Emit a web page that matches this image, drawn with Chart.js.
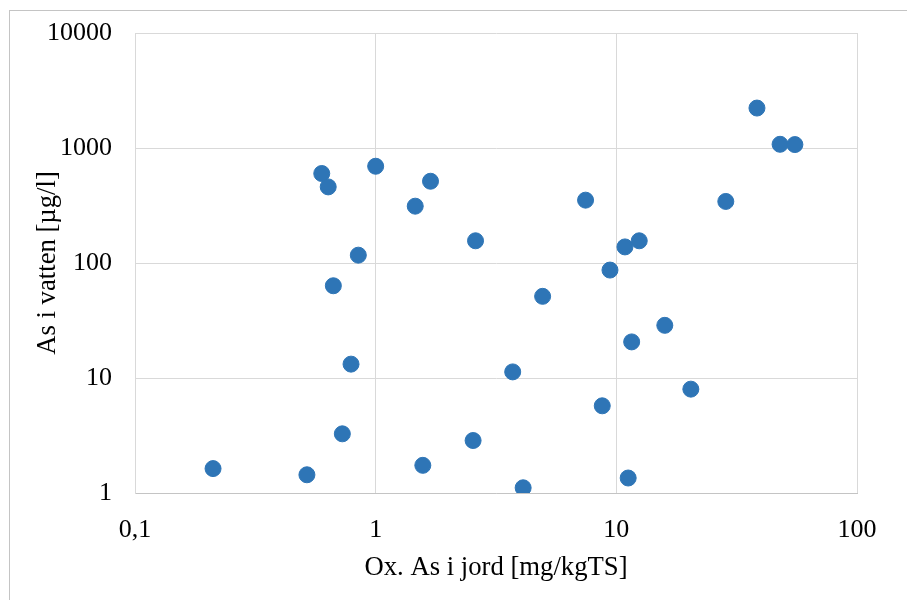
<!DOCTYPE html>
<html>
<head>
<meta charset="utf-8">
<script src="https://cdn.jsdelivr.net/npm/chart.js@4"></script>
<style>
    body { margin: 0; background: #fff; }
    #wrap { position: relative; width: 907px; height: 600px; overflow: hidden; }
    #frame { position: absolute; left: 9px; top: 10px; width: 1000px; height: 1000px; border: 1px solid #c4c4c4; }
    #asChart { position: absolute; left: 0; top: 0; }
</style>
</head>
<body>
<div id="wrap">
    <div id="frame"></div>
    <canvas id="asChart" width="907" height="600"></canvas>
</div>
<script>
// Ox. As i jord [mg/kgTS]
var soilAs = [0.211, 0.518, 0.597, 0.635, 0.667, 0.727, 0.79, 0.847, 1.0, 1.46,
              1.69, 1.57, 2.54, 2.6, 3.71, 4.1, 4.94, 7.45, 8.74, 9.41,
              10.86, 12.45, 11.58, 11.2, 15.9, 20.4, 28.5, 38.4, 47.9, 55.2];
// As i vatten [µg/l]
var waterAs = [1.63, 1.44, 600, 459, 63.4, 3.27, 13.2, 117, 694, 312,
               514, 1.74, 2.86, 156, 11.3, 1.11, 51.3, 352, 5.73, 86.8,
               138, 156, 20.6, 1.35, 28.7, 8.0, 343, 2225, 1077, 1071];

var xTickValues = [0.1, 1, 10, 100];
var xTickLabels = ['0,1', '1', '10', '100'];
var yTickValues = [1, 10, 100, 1000, 10000];
var yTickLabels = ['1', '10', '100', '1000', '10000'];

var points = soilAs.map(function(x, i) {
    return { x: x, y: waterAs[i] };
});

var serif = "'Liberation Serif', 'Times New Roman', serif";
var blue = 'rgb(46, 117, 182)';

new Chart(document.getElementById('asChart'), {
    type: 'scatter',
    data: {
        datasets: [{
            label: 'As',
            data: points,
            backgroundColor: blue,
            borderColor: blue,
            borderWidth: 1,
            pointRadius: 8,
            pointHoverRadius: 8
        }]
    },
    options: {
        responsive: false,
        animation: false,
        layout: { padding: { left: 0, top: 33, right: 50, bottom: 0 } },
        plugins: {
            legend: { display: false },
            tooltip: { enabled: false }
        },
        scales: {
            x: {
                type: 'logarithmic',
                min: 0.1,
                max: 100,
                afterBuildTicks: function(scale) {
                    scale.ticks = xTickValues.map(function(v) { return { value: v }; });
                },
                afterFit: function(scale) { scale.height = 107; },
                grid: { color: '#d9d9d9', lineWidth: 1, drawTicks: false },
                border: { color: '#c4c4c4', width: 1 },
                ticks: {
                    padding: 22,
                    color: '#000',
                    font: { family: serif, size: 26 },
                    maxRotation: 0,
                    autoSkip: false,
                    callback: function(value, index) { return xTickLabels[index]; }
                },
                title: {
                    display: true,
                    text: 'Ox. As i jord [mg/kgTS]',
                    color: '#000',
                    font: { family: serif, size: 26.7 },
                    padding: { top: 0, bottom: 16 }
                }
            },
            y: {
                type: 'logarithmic',
                min: 1,
                max: 10000,
                afterBuildTicks: function(scale) {
                    scale.ticks = yTickValues.map(function(v) { return { value: v }; });
                },
                afterFit: function(scale) {
                    scale.width = 135;
                    scale.paddingTop = 0;
                    scale.paddingBottom = 0;
                },
                grid: { color: '#d9d9d9', lineWidth: 1, drawTicks: false },
                border: { color: '#d9d9d9', width: 1 },
                ticks: {
                    padding: 23,
                    color: '#000',
                    font: { family: serif, size: 26 },
                    autoSkip: false,
                    callback: function(value, index) { return yTickLabels[index]; }
                },
                title: {
                    display: true,
                    text: 'As i vatten [µg/l]',
                    color: '#000',
                    font: { family: serif, size: 26.7 },
                    padding: { top: 32, bottom: 0 }
                }
            }
        }
    }
});
</script>
</body>
</html>
